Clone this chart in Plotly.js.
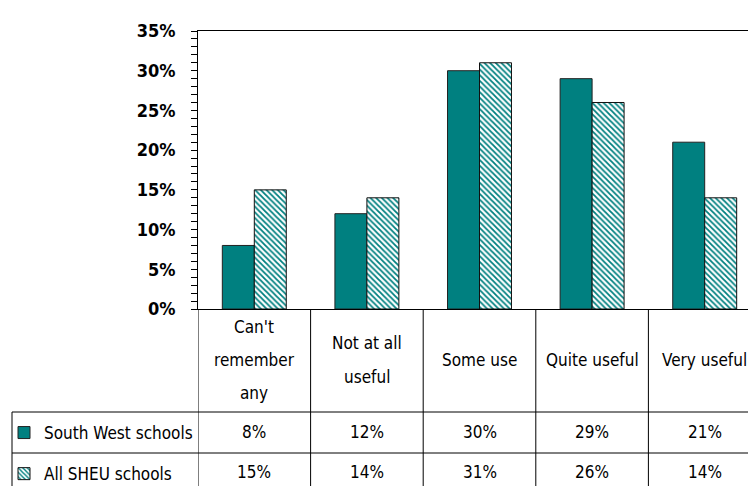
<!DOCTYPE html>
<html><head><meta charset="utf-8">
<script src="https://cdn.plot.ly/plotly-3.0.1.min.js"></script>
<style>html,body{margin:0;padding:0;background:#fff;overflow:hidden}</style>
</head><body><div id="chart" style="width:748px;height:486px"></div>
<script>
const categories = ["Can't\nremember\nany", "Not at all\nuseful", "Some use", "Quite useful", "Very useful"];
const seriesNames = ["South West schools", "All SHEU schools"];
const southWest = [8, 12, 30, 29, 21];
const allSheu = [15, 14, 31, 26, 14];
const yTickVals = [0, 5, 10, 15, 20, 25, 30, 35];
const yTickText = yTickVals.map(v => v + '%');

const FONT = "'DejaVu Sans Condensed','DejaVu Sans',sans-serif";
const TEAL = '#008080';
const W = 748, H = 486, L = 198, T = 31, B = 309;
const plotH = B - T, plotW = W - L;
const catW = 112.6;
const py = Y => (B - Y) / plotH;
const px = X => (X - L) / plotW;
const xs = categories.map((c, i) => i);

const traces = [
  {type: 'bar', name: seriesNames[0], x: xs, y: southWest, legendgroup: 'a',
   marker: {color: TEAL, line: {color: '#222', width: 1}}, hoverinfo: 'none'},
  {type: 'bar', name: seriesNames[1], x: xs, y: allSheu, legendgroup: 'b',
   marker: {color: '#fff', line: {color: '#111', width: 1},
            pattern: {shape: '\\', fgcolor: TEAL, bgcolor: '#fff', size: 4, solidity: 0.45}}, hoverinfo: 'none'}
];

const shapes = [];
const lineStyle = {color: '#000', width: 1};
for (let i = 0; i < categories.length; i++) {
  shapes.push({type: 'line', xref: 'x', yref: 'paper', x0: i - 0.5, x1: i - 0.5, y0: 0, y1: py(520), line: lineStyle});
}
[412, 453].forEach(Y => shapes.push({type: 'line', xref: 'paper', yref: 'paper', x0: px(12), x1: 1.05, y0: py(Y), y1: py(Y), line: lineStyle}));
shapes.push({type: 'line', xref: 'paper', yref: 'paper', x0: px(12), x1: px(12), y0: py(412), y1: py(520), line: lineStyle});

const annotations = [];
const lineGap = 33, headerMid = 360;
const TS = 17;
categories.forEach((c, i) => {
  const parts = c.split('\n');
  parts.forEach((p, j) => {
    const Y = headerMid + (j - (parts.length - 1) / 2) * lineGap;
    annotations.push({xref: 'x', yref: 'paper', x: i, y: py(Y), text: p, showarrow: false,
      xanchor: 'center', yanchor: 'middle', font: {family: FONT, size: TS, color: '#000'}});
  });
});
[[southWest, 432], [allSheu, 472]].forEach(([vals, Y]) => {
  vals.forEach((v, i) => annotations.push({xref: 'x', yref: 'paper', x: i, y: py(Y), text: v + '%', showarrow: false,
    xanchor: 'center', yanchor: 'middle', font: {family: FONT, size: TS, color: '#000'}}));
});

const layout = {
  width: W, height: H,
  margin: {l: L, r: 0, t: T, b: H - B, pad: 0, autoexpand: false},
  paper_bgcolor: '#fff', plot_bgcolor: '#fff',
  barmode: 'group', bargap: 0.432, bargroupgap: 0,
  showlegend: true,
  legend: {x: px(4), xanchor: 'left', y: py(415), yanchor: 'top', traceorder: 'grouped', tracegroupgap: 16,
    font: {family: FONT, size: TS, color: '#000'}, bgcolor: 'rgba(0,0,0,0)', borderwidth: 0, itemclick: false},
  xaxis: {range: [-0.5, -0.5 + plotW / catW], showticklabels: false, ticks: '', showgrid: false, zeroline: false,
    showline: true, mirror: true, linecolor: '#000', linewidth: 1, fixedrange: true},
  yaxis: {range: [0, 35], tickmode: 'array', tickvals: yTickVals, ticktext: yTickText, ticks: 'outside', ticklen: 6, tickcolor: '#000', tickwidth: 1,
    minor: {dtick: 1, ticks: 'outside', ticklen: 6, tickcolor: '#000', tickwidth: 1, showgrid: false},
    showgrid: false, zeroline: false, showline: true, linecolor: '#000', linewidth: 1, ticklabelstandoff: 12,
    tickfont: {family: FONT, size: 18, color: '#000', weight: 'bold'}, fixedrange: true},
  shapes: shapes, annotations: annotations
};
Plotly.newPlot('chart', traces, layout, {displayModeBar: false, staticPlot: true});
</script></body></html>
